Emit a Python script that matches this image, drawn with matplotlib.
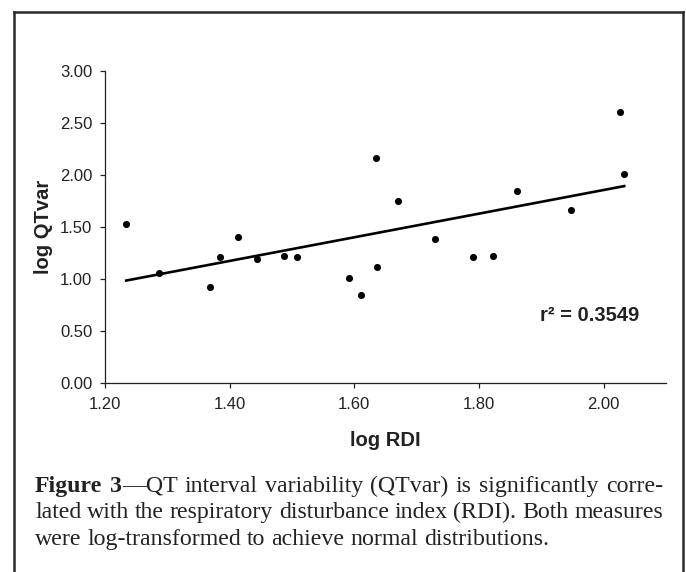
import numpy as np
import matplotlib
matplotlib.use("Agg")
import matplotlib.pyplot as plt
from matplotlib.lines import Line2D

# data
log_rdi = [1.234, 1.286, 1.368, 1.384, 1.413, 1.444, 1.487, 1.508, 1.592, 1.610,
           1.635, 1.636, 1.670, 1.729, 1.791, 1.822, 1.861, 1.947, 2.027, 2.033]
log_qtvar = [1.53, 1.06, 0.92, 1.21, 1.40, 1.19, 1.22, 1.21, 1.01, 0.845,
             2.16, 1.12, 1.75, 1.38, 1.21, 1.22, 1.85, 1.66, 2.61, 2.01]
x_ticks = [1.20, 1.40, 1.60, 1.80, 2.00]
y_ticks = [0.00, 0.50, 1.00, 1.50, 2.00, 2.50, 3.00]
r2_text = "r\u00b2 = 0.3549"

caption_lines = [
    [("Figure 3", "bold"), ("\u2014QT interval variability (QTvar) is significantly corre-", "normal")],
    [("lated with the respiratory disturbance index (RDI). Both measures", "normal")],
    [("were log-transformed to achieve normal distributions.", "normal")],
]

W, H = 686, 572
fig = plt.figure(figsize=(W / 100, H / 100), dpi=100)
ax = fig.add_axes([105 / W, 1 - 383 / H, (666 - 105) / W, (383 - 71) / H])

x = np.array(log_rdi)
y = np.array(log_qtvar)
ax.scatter(x, y, s=26, color="black", zorder=3, linewidths=0)

# linear trend line
k, b = np.polyfit(x, y, 1)
xs = np.array([x.min(), x.max()])
ax.plot(xs, k * xs + b, color="black", lw=1.9, zorder=2)

ax.set_xlim(1.2, 2.1)
ax.set_ylim(0, 3)
ax.set_xticks(x_ticks)
ax.set_yticks(y_ticks)
ax.set_xticklabels([f"{v:.2f}" for v in x_ticks])
ax.set_yticklabels([f"{v:.2f}" for v in y_ticks])
for s in ["top", "right"]:
    ax.spines[s].set_visible(False)
for s in ["left", "bottom"]:
    ax.spines[s].set_color("#222222")
    ax.spines[s].set_linewidth(0.9)
ax.tick_params(length=3.6, width=0.9, color="#222222", labelsize=12, labelcolor="#222222")
ax.tick_params(axis="x", pad=6.5)
ax.tick_params(axis="y", pad=5.5)
for lab in ax.get_xticklabels() + ax.get_yticklabels():
    lab.set_family("Liberation Sans")

ax.set_xlabel("log RDI", family="Liberation Sans", fontweight="bold", fontsize=14.5, color="#222222")
ax.xaxis.set_label_coords(0.5, -(431 - 383) / (383 - 71))
ax.xaxis.label.set_va("top")
ax.set_ylabel("log QTvar", family="Liberation Sans", fontweight="bold", fontsize=14.5, color="#222222")
ax.yaxis.set_label_coords((43 - 105) / (666 - 105), 0.5)
ax.yaxis.label.set_va("center")

ax.text(1.898, 0.592, r2_text, family="Liberation Sans", fontweight="bold", fontsize=14.5,
        color="#222222", ha="left", va="baseline")

# frame around figure + caption (left, top, right sides)
fx = lambda px: px / W
fy = lambda py: 1 - py / H
for xd, yd in [([14, 14], [572, 12]), ([14, 683], [12, 12]), ([683, 683], [12, 572])]:
    fig.add_artist(Line2D([fx(v) for v in xd], [fy(v) for v in yd], color="#2a2a2a", lw=1.8))

# caption, justified like the printed page
renderer = fig.canvas.get_renderer()
cap_font = "Liberation Serif"
left_px, right_px = 35, 663
baselines = [491.7, 518.3, 545.0]

def text_width(s, weight, size):
    t = fig.text(0, 0, s, family=cap_font, fontweight=weight, fontsize=size)
    w = t.get_window_extent(renderer).width
    t.remove()
    return w

# size chosen so the last (unjustified) line ends where it does in the print
ref_w = text_width(caption_lines[2][0][0], "normal", 10)
cap_size = 10 * (550 - left_px) / ref_w

for i, line in enumerate(caption_lines):
    words = []
    for seg, weight in line:
        parts = seg.split(" ")
        for j, p in enumerate(parts):
            # the bold label and the dash run together without a gap
            glue = (j == 0 and words and seg.startswith("\u2014"))
            words.append((p, weight, glue))
    widths = [text_width(w, wt, cap_size) for w, wt, _ in words]
    n_gaps = sum(1 for w in words[1:] if not w[2])
    if i < len(caption_lines) - 1:
        gap = (right_px - left_px - sum(widths)) / n_gaps
    else:
        gap = text_width("a b", "normal", cap_size) - text_width("ab", "normal", cap_size)
    xpos = left_px
    for (w, wt, glue), wd in zip(words, widths):
        if xpos != left_px and not glue:
            xpos += gap
        fig.text(fx(xpos), fy(baselines[i]), w, family=cap_font, fontweight=wt,
                 fontsize=cap_size, color="#222222", ha="left", va="baseline")
        xpos += wd

fig.savefig("out.png", dpi=100)
